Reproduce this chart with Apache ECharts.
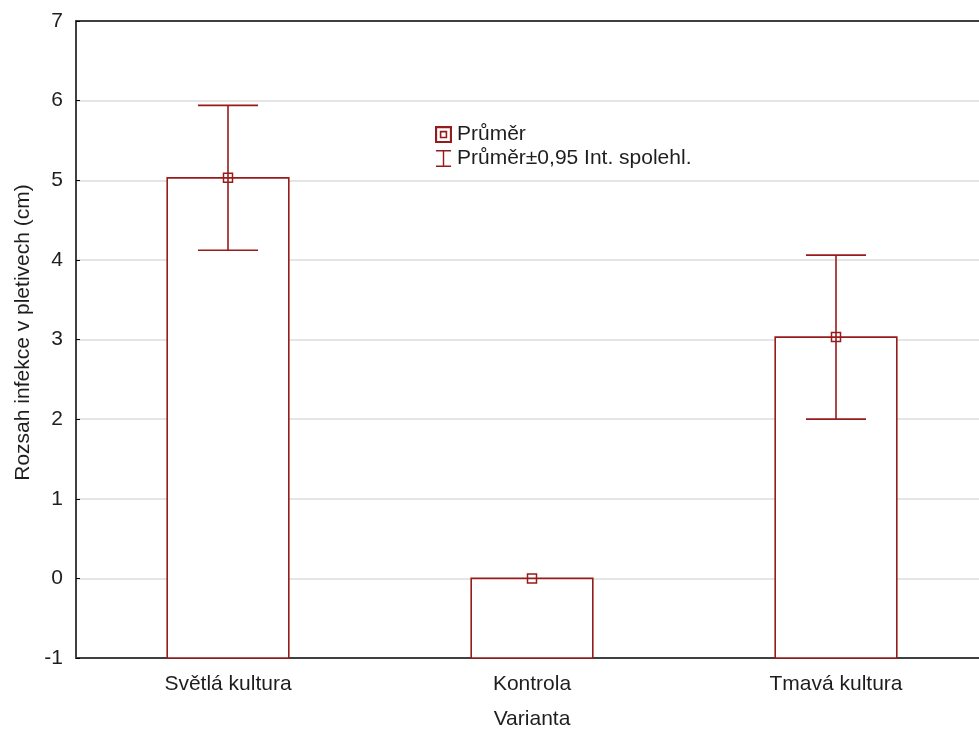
<!DOCTYPE html>
<html>
<head>
<meta charset="utf-8">
<script src="https://cdn.jsdelivr.net/npm/echarts@6/dist/echarts.min.js"></script>
<style>
  html, body { margin: 0; padding: 0; background: #fff; }
  #container { width: 979px; height: 729px; }
</style>
</head>
<body>
<div id="container"></div>
<script>
var categories = ["Světlá kultura", "Kontrola", "Tmavá kultura"];
var means = [5.03, 0.0, 3.03];
var ciLow = [4.12, 0.0, 2.0];
var ciHigh = [5.94, 0.0, 4.06];
var yTicks = [-1, 0, 1, 2, 3, 4, 5, 6, 7];

var yMin = -1, yMax = 7;
var red = "#981b1b";
var axisColor = "#404040";
var textColor = "#1e1e1e";
var fs = 21;

var dom = document.getElementById("container");
var myChart = echarts.init(dom);

var barData = categories.map(function (c, i) {
  return [i, means[i], ciLow[i], ciHigh[i]];
});
var meanData = categories.map(function (c, i) {
  return [i, means[i]];
});

// bar from the bottom of the axis + error bar with caps
function renderBar(params, api) {
  var i = api.value(0);
  var bandW = api.size([1, 0])[0];
  var bw = bandW * 0.4;
  var top = api.coord([i, api.value(1)]);
  var base = api.coord([i, yMin]);
  var lo = api.coord([i, api.value(2)]);
  var hi = api.coord([i, api.value(3)]);
  var cap = 30;
  var st = { stroke: red, lineWidth: 1.6, fill: null };
  var kids = [
    {
      type: "rect",
      shape: { x: top[0] - bw / 2, y: top[1], width: bw, height: base[1] - top[1] },
      style: { fill: "#fff", stroke: red, lineWidth: 1.6 }
    }
  ];
  if (hi[1] !== lo[1]) {
    kids.push(
      { type: "line", shape: { x1: lo[0], y1: lo[1], x2: hi[0], y2: hi[1] }, style: st },
      { type: "line", shape: { x1: hi[0] - cap, y1: hi[1], x2: hi[0] + cap, y2: hi[1] }, style: st },
      { type: "line", shape: { x1: lo[0] - cap, y1: lo[1], x2: lo[0] + cap, y2: lo[1] }, style: st }
    );
  }
  return { type: "group", children: kids };
}

var iconMean = "path://M0,0H16V16H0Z M2,2V14H14V2Z M4.5,4.5H11.5V11.5H4.5Z M6,6V10H10V6Z";
var iconCI = "path://M0,0H16V1.5H8.75V16.5H16V18H0V16.5H7.25V1.5H0Z";

var option = {
  animation: false,
  textStyle: { fontFamily: "Liberation Sans, Arial, sans-serif" },
  grid: { left: 76, top: 21, width: 912, height: 637, outerBoundsMode: "none", containLabel: false },
  legend: {
    orient: "vertical",
    left: 435,
    top: 124,
    padding: 0,
    itemWidth: 17,
    itemHeight: 17,
    itemGap: 3,
    textStyle: { fontSize: fs, color: textColor },
    data: [
      { name: "Průměr", icon: iconMean, itemStyle: { color: red, borderWidth: 0 } },
      { name: "Průměr±0,95 Int. spolehl.", icon: iconCI, itemStyle: { color: red, borderWidth: 0 } }
    ]
  },
  xAxis: [
    {
      type: "category",
      data: categories,
      name: "Varianta",
      nameLocation: "middle",
      nameGap: 51,
      nameTextStyle: { fontSize: fs, color: textColor },
      axisLine: { onZero: false, lineStyle: { color: axisColor, width: 2 } },
      axisTick: { alignWithLabel: true, inside: true, length: 4, lineStyle: { color: "#000" } },
      axisLabel: { fontSize: fs, color: textColor, margin: 16 },
      splitLine: { show: false }
    },
    {
      type: "category",
      data: categories,
      position: "top",
      axisLine: { onZero: false, lineStyle: { color: axisColor, width: 2 } },
      axisTick: { alignWithLabel: true, inside: true, length: 4, lineStyle: { color: "#000" } },
      axisLabel: { show: false }
    }
  ],
  yAxis: {
    type: "value",
    min: yMin,
    max: yMax,
    interval: 1,
    name: "Rozsah infekce v pletivech (cm)",
    nameLocation: "middle",
    nameGap: 42,
    nameTextStyle: { fontSize: fs, color: textColor, padding: [0, 0, 0, 14] },
    axisLine: { show: true, onZero: false, lineStyle: { color: axisColor, width: 2 } },
    axisTick: { show: true, inside: true, length: 4, lineStyle: { color: "#000" } },
    axisLabel: {
      fontSize: fs,
      color: textColor,
      margin: 13,
      formatter: function (v) { return yTicks.indexOf(v) >= 0 ? String(v) : ""; }
    },
    splitLine: { show: true, lineStyle: { color: "#dcdcdc", width: 1.5 } }
  },
  series: [
    {
      name: "Průměr±0,95 Int. spolehl.",
      type: "custom",
      renderItem: renderBar,
      data: barData,
      encode: { x: 0, y: [1, 2, 3] },
      z: 2
    },
    {
      name: "Průměr",
      type: "scatter",
      data: meanData,
      symbol: "rect",
      symbolSize: 9,
      itemStyle: { color: "rgba(0,0,0,0)", borderColor: red, borderWidth: 1.5, opacity: 1 },
      z: 3
    }
  ]
};

if (option && typeof option === "object") {
  myChart.setOption(option, true);
}
</script>
</body>
</html>
